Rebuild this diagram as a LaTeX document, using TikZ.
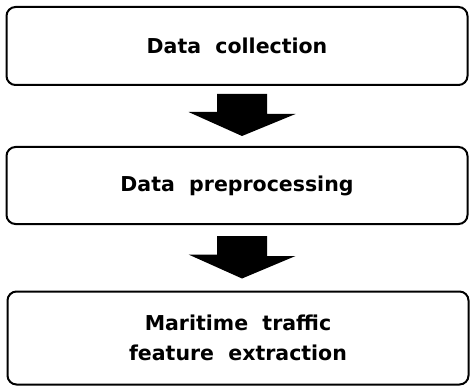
\documentclass[tikz,border=0pt]{standalone}
\usepackage{fontspec}
\setmainfont{DejaVu Sans}
\usetikzlibrary{calc}

\tikzset{
  stepbox/.style={draw=black, line width=2pt, rounded corners=9pt,
    minimum width=461pt, align=center,
    font=\fontsize{20.5}{30}\selectfont\bfseries},
  blockarrow/.style={fill=black, draw=none}
}

\begin{document}
\begin{tikzpicture}
\useasboundingbox (0,0) rectangle (470pt,-387pt);

\node[stepbox, minimum height=78pt] (collect) at (237pt,-46pt) {Data\ \ collection};
\node[stepbox, minimum height=77pt] (prep) at (237pt,-185.5pt) {Data\ \ preprocessing};
\node[stepbox, minimum height=93pt] (feature) at (238pt,-338pt) {Maritime\ \ traffic\\feature\ \ extraction};

% block arrows between the steps
\fill[blockarrow] ($(collect.south)+(-20pt,-8pt)$) -- ++(50pt,0) -- ++(0,-20pt) -- ++(28.5pt,0)
  -- ($(prep.north)+(5pt,10pt)$) -- ++(-53.5pt,24pt) -- ++(28.5pt,0) -- cycle;
\fill[blockarrow] ($(prep.south)+(-20pt,-11pt)$) -- ++(50pt,0) -- ++(0,-20pt) -- ++(28.5pt,0)
  -- ($(feature.north)+(4pt,12pt)$) -- ++(-53.5pt,24pt) -- ++(28.5pt,0) -- cycle;
\end{tikzpicture}
\end{document}
